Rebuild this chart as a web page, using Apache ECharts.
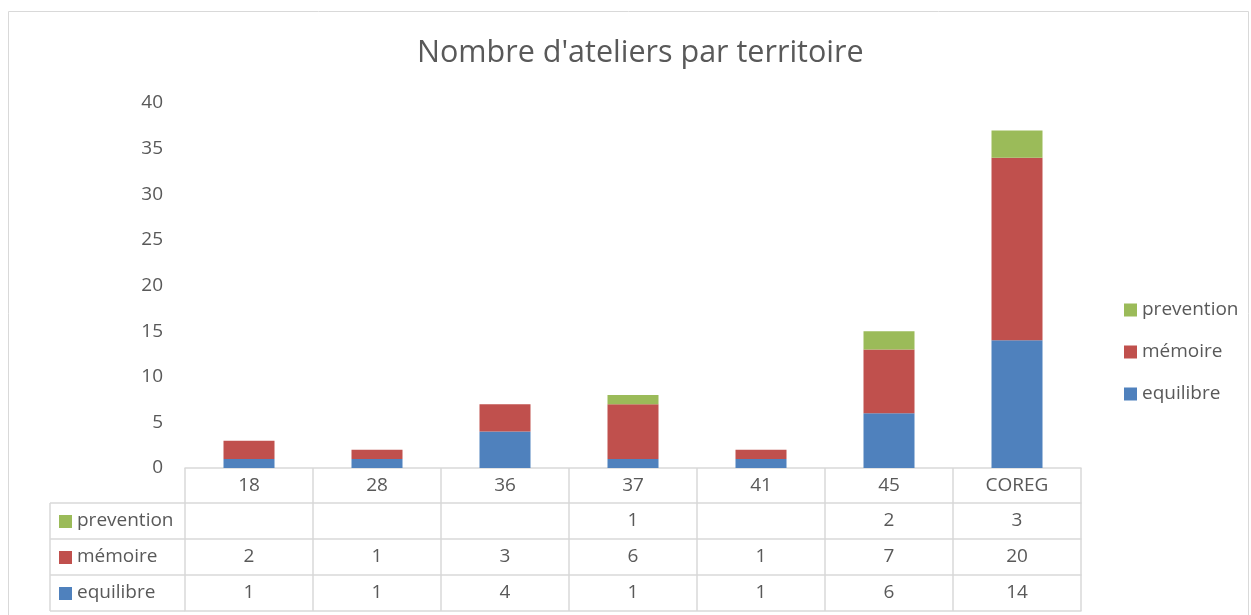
<!DOCTYPE html>
<html>
<head>
<meta charset="utf-8">
<script src="https://cdn.jsdelivr.net/npm/echarts@6/dist/echarts.min.js"></script>
<style>
html,body{margin:0;padding:0;background:#fff;}
#chart{width:1251px;height:615px;}
</style>
</head>
<body>
<div id="chart"></div>
<script>
var territoires = ['18', '28', '36', '37', '41', '45', 'COREG'];
var equilibre = [1, 1, 4, 1, 1, 6, 14];
var memoire = [2, 1, 3, 6, 1, 7, 20];
var prevention = [null, null, null, 1, null, 2, 3];
var yTicks = [0, 5, 10, 15, 20, 25, 30, 35, 40];

var couleurs = { equilibre: '#4f81bd', memoire: '#c0504d', prevention: '#9bbb59' };
var gris = '#595959';
var trait = '#d9d9d9';
var police = 'Open Sans';
var taille = 19;

// rows of the data table, top to bottom
var lignes = [
	{ name: 'prevention', data: prevention, color: couleurs.prevention },
	{ name: 'mémoire', data: memoire, color: couleurs.memoire },
	{ name: 'equilibre', data: equilibre, color: couleurs.equilibre }
];

var el = echarts.init(document.getElementById('chart'));

function tableAxis(offset, vals, ticks) {
	return {
		type: 'category',
		data: territoires,
		position: 'bottom',
		offset: offset,
		axisLine: { show: true, lineStyle: { color: trait, width: 1.5 } },
		axisTick: { show: ticks, length: 36, lineStyle: { color: trait, width: 1.5 } },
		axisLabel: {
			show: !!vals,
			margin: 8,
			color: gris,
			fontSize: taille,
			fontFamily: police,
			formatter: function (v, i) {
				return vals ? (vals[i] == null ? '' : String(vals[i])) : v;
			}
		},
		splitLine: { show: false }
	};
}

var xAxes = [tableAxis(0, territoires, true)];
lignes.forEach(function (l, k) {
	xAxes.push(tableAxis(35 + 36 * k, l.data, true));
});
xAxes.push(tableAxis(35 + 36 * 3, null, false));

// left column of the table: borders and legend keys
var graphics = [{
	type: 'rect',
	shape: { x: 8.5, y: 11.5, width: 1240, height: 610 },
	style: { fill: 'none', stroke: trait, lineWidth: 1 }
}, {
	type: 'line',
	shape: { x1: 50, y1: 503, x2: 50, y2: 611 },
	style: { stroke: trait, lineWidth: 1.5 }
}];
for (var r = 0; r < 4; r++) {
	graphics.push({
		type: 'line',
		shape: { x1: 50, y1: 503 + 36 * r, x2: 185, y2: 503 + 36 * r },
		style: { stroke: trait, lineWidth: 1.5 }
	});
}
lignes.forEach(function (l, k) {
	var cy = 521 + 36 * k;
	graphics.push({
		type: 'rect',
		shape: { x: 59, y: cy - 6, width: 13, height: 13 },
		style: { fill: l.color }
	});
	graphics.push({
		type: 'text',
		x: 77, y: cy,
		style: { text: l.name, fill: gris, font: taille + 'px "' + police + '"', textVerticalAlign: 'middle' }
	});
});

var elData = {
	animation: false,
	title: {
		text: "Nombre d'ateliers par territoire",
		left: 412,
		top: 33,
		textStyle: { color: gris, fontSize: 30.5, fontWeight: 'normal', fontFamily: police }
	},
	legend: {
		orient: 'vertical',
		left: 1119,
		top: 295,
		itemWidth: 13,
		itemHeight: 13,
		itemGap: 22,
		icon: 'rect',
		data: ['prevention', 'mémoire', 'equilibre'],
		textStyle: { color: gris, fontSize: taille, lineHeight: 20, fontFamily: police }
	},
	grid: { left: 185, right: 170, top: 103, bottom: 147, containLabel: false },
	xAxis: xAxes,
	yAxis: {
		type: 'value',
		min: yTicks[0],
		max: yTicks[yTicks.length - 1],
		interval: 5,
		axisLine: { show: false },
		axisTick: { show: false },
		splitLine: { show: false },
		axisLabel: { color: gris, fontSize: taille, fontFamily: police, margin: 22 }
	},
	graphic: graphics,
	series: [
		{ name: 'equilibre', type: 'bar', stack: 'total', barWidth: 51, data: equilibre, itemStyle: { color: couleurs.equilibre } },
		{ name: 'mémoire', type: 'bar', stack: 'total', barWidth: 51, data: memoire, itemStyle: { color: couleurs.memoire } },
		{ name: 'prevention', type: 'bar', stack: 'total', barWidth: 51, data: prevention, itemStyle: { color: couleurs.prevention } }
	]
};
el.setOption(elData);
</script>
</body>
</html>
